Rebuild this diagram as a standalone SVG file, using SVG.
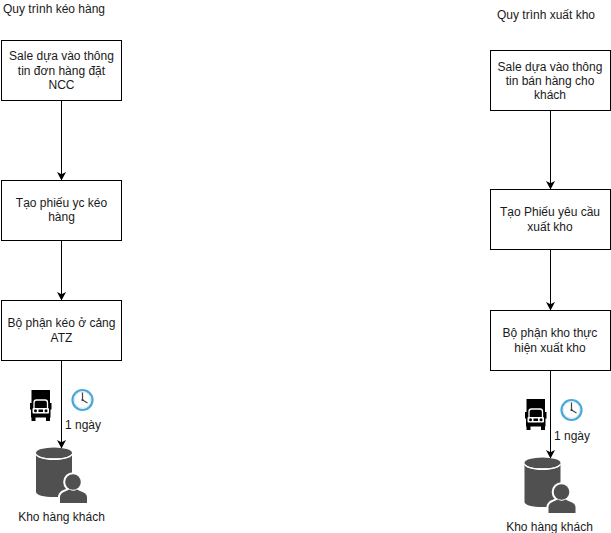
<svg xmlns="http://www.w3.org/2000/svg" width="611" height="533" viewBox="0 0 611 533">
<style>
text{font-family:"Liberation Sans",Arial,sans-serif;font-size:12px;fill:#1a1a1a;text-anchor:middle}
.box{fill:#fff;stroke:#000;stroke-width:1}
.conn{fill:none;stroke:#000;stroke-width:1;marker-end:url(#arr)}
.db{fill:#505050}
</style>
<defs>
<marker id="arr" markerUnits="userSpaceOnUse" markerWidth="10" markerHeight="10" refX="8" refY="4.500" orient="auto"><path d="M0 0L8.500 4.500L0 9L2.200 4.500Z" fill="#000"/></marker>
<g id="truck">
<path d="M1.500 0H20V13H21.500V19.500H20.500V27.500H20V31H16V27.500H5.500V31H1.500V27.500H1V19.500H0V13H1.500Z" fill="#000"/>
<path d="M4 18.500V12.500Q4 10 6.500 10H15Q17.500 10 17.500 12.500V18.500" fill="none" stroke="#fff" stroke-width="1.300"/>
<rect x="2.500" y="18" width="16.500" height="5.500" rx="1" fill="#fff"/>
<circle cx="5.500" cy="20.700" r="1.500" fill="#000"/><circle cx="16" cy="20.700" r="1.500" fill="#000"/>
<rect x="8.500" y="19.500" width="4.500" height="2.500" fill="#000"/>
</g>
<g id="clock">
<circle cx="11" cy="11" r="10" fill="#fff" stroke="#4aa8d8" stroke-width="2.200"/>
<circle cx="11" cy="11" r="8.200" fill="#fff" stroke="#cfe3ee" stroke-width="0.800"/>
<path d="M11 3.500V11L16 14" fill="none" stroke="#444" stroke-width="1.200"/>
<circle cx="11" cy="11" r="1.100" fill="#333"/>
</g>
<g id="dbuser">
<path class="db" d="M0 6V44C0 47 8 49 18 49S36 47 36 44V6C36 9.500 28 12 18 12S0 9.500 0 6Z"/>
<ellipse class="db" cx="18" cy="5" rx="18" ry="5.500"/>
<path d="M0 6.500C2 9.500 9 11 18 11S34 9.500 36 6.500" fill="none" stroke="#fff" stroke-width="1.300"/>
<circle cx="37" cy="34" r="9.800" fill="#fff"/>
<path d="M22 56V48Q23 43 30 41L34 40H41L45 41Q52 43 53 48V56Z" fill="#fff"/>
<circle cx="37" cy="34" r="7.800" fill="#505050"/>
<path class="db" d="M24 55V49Q24 45 30 43L33.500 41.500Q37 44 41 41.500L44 43Q51 45 51 49V55Z"/>
</g>
</defs>
<g id="connectors">
<path class="conn" d="M61.500 100.500V180"/>
<path class="conn" d="M61.500 240.500V300"/>
<path class="conn" d="M61.500 360.500V448"/>
<path class="conn" d="M550.500 110.500V189"/>
<path class="conn" d="M550.500 249.500V310"/>
<path class="conn" d="M550.500 370.500V458"/>
</g>
<g id="title-left"><text x="54" y="13">Quy trình kéo hàng</text></g>
<g id="title-right"><text x="546" y="19">Quy trình xuất kho</text></g>
<g id="n1"><rect class="box" x="1.500" y="40.500" width="120" height="60"/><text x="61.500" y="60">Sale dựa vào thông</text><text x="61.500" y="75">tin đơn hàng đặt</text><text x="61.500" y="89">NCC</text></g>
<g id="n2"><rect class="box" x="1.500" y="180.500" width="120" height="60"/><text x="61.500" y="207">Tạo phiếu yc kéo</text><text x="61.500" y="221">hàng</text></g>
<g id="n3"><rect class="box" x="1.500" y="300.500" width="120" height="60"/><text x="61.500" y="327">Bộ phận kéo ở cảng</text><text x="61.500" y="342">ATZ</text></g>
<g id="truck-left"><use href="#truck" x="30" y="390"/></g>
<g id="clock-left"><use href="#clock" x="71.500" y="389"/></g>
<g id="label-left"><text x="83" y="429">1 ngày</text></g>
<g id="kho-left"><use href="#dbuser" x="36" y="448"/><text x="61.500" y="521">Kho hàng khách</text></g>
<g id="n4"><rect class="box" x="490.500" y="50.500" width="120" height="60"/><text x="550" y="71">Sale dựa vào thông</text><text x="550" y="85">tin bán hàng cho</text><text x="550" y="99">khách</text></g>
<g id="n5"><rect class="box" x="490.500" y="189.500" width="120" height="60"/><text x="550" y="216">Tạo Phiếu yêu cầu</text><text x="550" y="231">xuất kho</text></g>
<g id="n6"><rect class="box" x="490.500" y="310.500" width="120" height="60"/><text x="550" y="337">Bộ phận kho thực</text><text x="550" y="352">hiện xuất kho</text></g>
<g id="truck-right"><use href="#truck" x="525" y="399"/></g>
<g id="clock-right"><use href="#clock" x="560.500" y="399"/></g>
<g id="label-right"><text x="572" y="440">1 ngày</text></g>
<g id="kho-right"><use href="#dbuser" x="524.500" y="458"/><text x="549.500" y="531">Kho hàng khách</text></g>
</svg>
